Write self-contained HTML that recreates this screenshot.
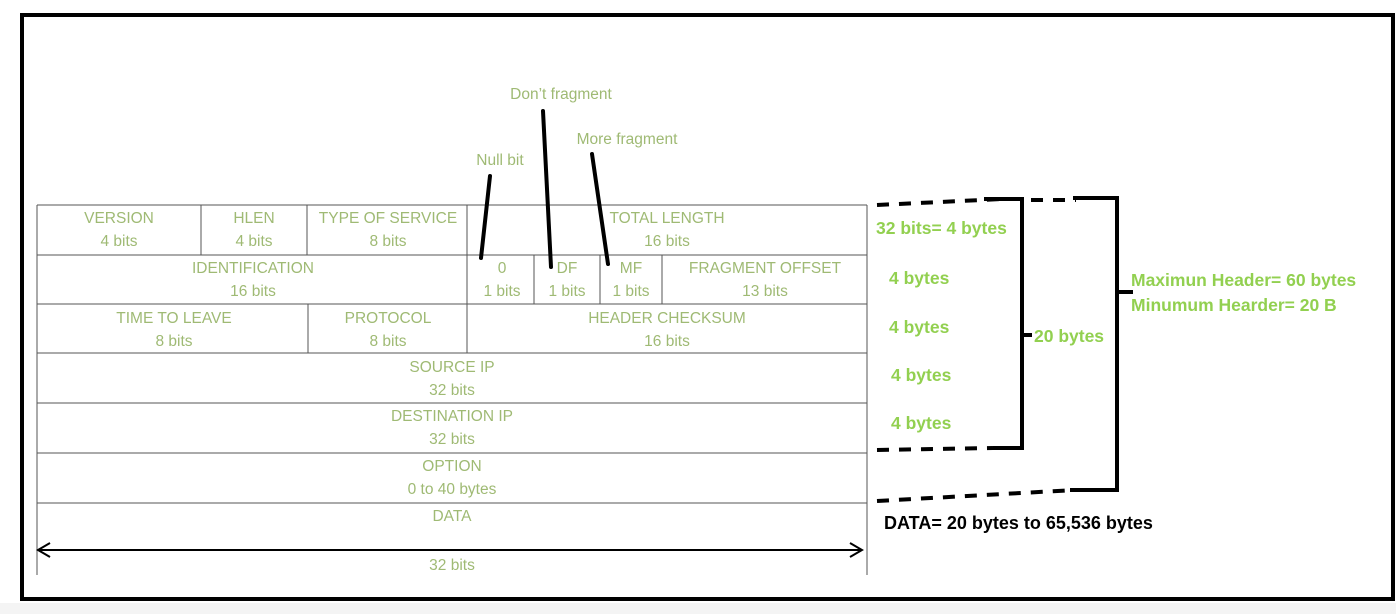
<!DOCTYPE html>
<html><head><meta charset="utf-8"><style>
html,body{margin:0;padding:0;background:#fff;}
svg{display:block;}
.t{font-family:"Liberation Sans",sans-serif;font-size:15.5px;fill:#9fba74;text-anchor:middle;}
.g{font-family:"Liberation Sans",sans-serif;font-size:17.5px;font-weight:bold;fill:#92d050;}
.c{stroke:#555;stroke-width:1;fill:none;}
</style></head><body>
<svg width="1396" height="614" viewBox="0 0 1396 614">
<rect x="0" y="603" width="1396" height="11" fill="#f4f4f4"/>
<rect x="22" y="15" width="1371" height="584" fill="#fff" stroke="#000" stroke-width="4"/>
<g>
<path class="c" d="M37 205H867M37 255H867M37 304H867M37 353H867M37 403H867M37 453H867M37 503H867M37 205V575M867 205V575"/>
<path class="c" d="M201 205V255M307 205V255M467 205V304M534 255V304M600 255V304M662 255V304M308 304V353M467 304V353"/>
</g>
<g class="t">
<text x="119" y="223">VERSION</text><text x="119" y="246">4 bits</text>
<text x="254" y="223">HLEN</text><text x="254" y="246">4 bits</text>
<text x="388" y="223">TYPE OF SERVICE</text><text x="388" y="246">8 bits</text>
<text x="667" y="223">TOTAL LENGTH</text><text x="667" y="246">16 bits</text>
<text x="253" y="273">IDENTIFICATION</text><text x="253" y="296">16 bits</text>
<text x="502" y="273">0</text><text x="502" y="296">1 bits</text>
<text x="567" y="273">DF</text><text x="567" y="296">1 bits</text>
<text x="631" y="273">MF</text><text x="631" y="296">1 bits</text>
<text x="765" y="273">FRAGMENT OFFSET</text><text x="765" y="296">13 bits</text>
<text x="174" y="323">TIME TO LEAVE</text><text x="174" y="346">8 bits</text>
<text x="388" y="323">PROTOCOL</text><text x="388" y="346">8 bits</text>
<text x="667" y="323">HEADER CHECKSUM</text><text x="667" y="346">16 bits</text>
<text x="452" y="372">SOURCE IP</text><text x="452" y="395">32 bits</text>
<text x="452" y="421">DESTINATION IP</text><text x="452" y="444">32 bits</text>
<text x="452" y="471">OPTION</text><text x="452" y="494">0 to 40 bytes</text>
<text x="452" y="521">DATA</text><text x="452" y="570">32 bits</text>
<text x="561" y="99">Don’t fragment</text>
<text x="627" y="144">More fragment</text>
<text x="500" y="165">Null bit</text>
</g>
<g stroke="#000" stroke-width="4" stroke-linecap="round">
<line x1="490" y1="176" x2="481" y2="258"/>
<line x1="543" y1="111" x2="551" y2="267"/>
<line x1="592" y1="154" x2="608" y2="264"/>
</g>
<g stroke="#000" fill="none">
<line x1="38" y1="550" x2="862" y2="550" stroke-width="2"/>
<path d="M50 543L38 550L50 557M850 543L862 550L850 557" stroke-width="2"/>
</g>
<g stroke="#000" stroke-width="4" fill="none">
<path d="M877 205L1002 199" stroke-dasharray="12 10"/>
<path d="M984 199H1022V448H993"/>
<path d="M877 450L993 448" stroke-dasharray="12 10"/>
<path d="M1022 335H1032"/>
<path d="M1031 200H1076" stroke-dasharray="12 10"/>
<path d="M1073 198H1117V490H1070"/>
<path d="M877 501L1075 490" stroke-dasharray="12 10"/>
<path d="M1117 292H1133"/>
</g>
<g class="g">
<text x="876" y="234">32 bits= 4 bytes</text>
<text x="889" y="284">4 bytes</text>
<text x="889" y="333">4 bytes</text>
<text x="891" y="381">4 bytes</text>
<text x="891" y="429">4 bytes</text>
<text x="1034" y="342">20 bytes</text>
<text x="1131" y="286">Maximun Header= 60 bytes</text>
<text x="1131" y="311">Minumum Hearder= 20 B</text>
</g>
<text x="884" y="529" style="font-family:'Liberation Sans',sans-serif;font-size:18px;font-weight:bold;fill:#000">DATA= 20 bytes to 65,536 bytes</text>
</svg>
</body></html>
